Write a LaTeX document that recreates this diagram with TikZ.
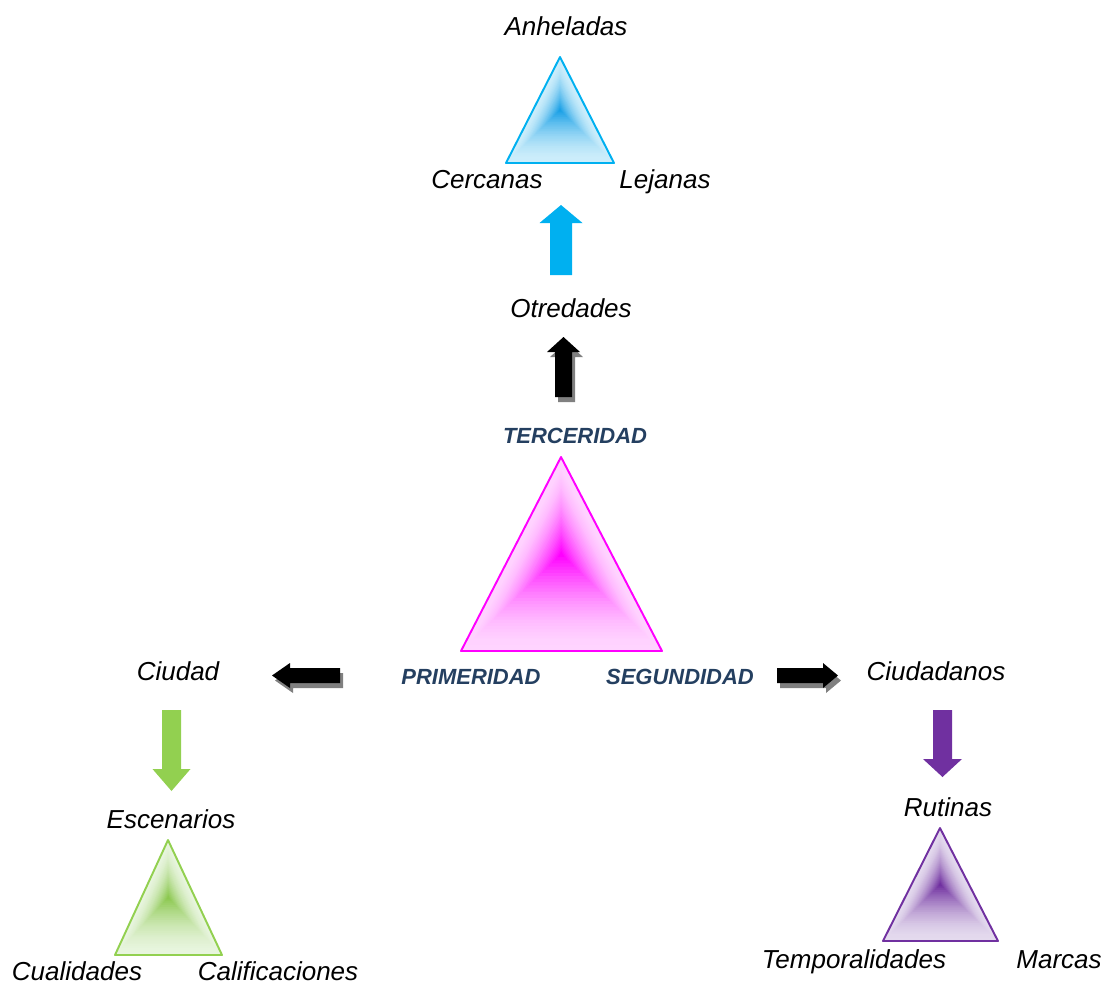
\documentclass[tikz,border=0pt]{standalone}
\usepackage{fontspec}
\setmainfont{Liberation Sans}
\usetikzlibrary{calc}
\definecolor{magline}{RGB}{255,0,255}
\definecolor{magdark}{RGB}{255,0,255}
\definecolor{maglight}{RGB}{255,212,255}
\definecolor{bluline}{RGB}{0,176,240}
\definecolor{bludark}{RGB}{25,160,230}
\definecolor{blulight}{RGB}{205,238,251}
\definecolor{grnline}{RGB}{146,208,80}
\definecolor{grndark}{RGB}{140,200,80}
\definecolor{grnlight}{RGB}{232,245,222}
\definecolor{purline}{RGB}{112,48,160}
\definecolor{purdark}{RGB}{112,48,160}
\definecolor{purlight}{RGB}{228,218,238}
\definecolor{catblue}{RGB}{36,63,96}
\tikzset{
  lbl/.style={anchor=base,inner sep=0pt,font=\fontsize{14.8}{17}\selectfont\itshape},
  cat/.style={anchor=base,inner sep=0pt,text=catblue,font=\fontsize{12.5}{14}\selectfont\bfseries\itshape}
}
% pyramid fill: apex, left, right, line, dark, light
\newcommand{\pyr}[6]{
  \coordinate (pm) at ($(#1)!0.5!($(#2)!0.5!(#3)$)$);
  \foreach \i in {0,...,30}{
    \pgfmathsetmacro{\s}{1-\i/31}
    \pgfmathtruncatemacro{\p}{100*(\i/30)^1.7}
    \fill[#5!\p!#6] ($(pm)!\s!(#1)$)--($(pm)!\s!(#2)$)--($(pm)!\s!(#3)$)--cycle;
  }
  \draw[#4,line width=1.1pt,line join=round] (#1)--(#2)--(#3)--cycle;
}
% block arrow: fill, tail, angle, length, head length, shaft half, head half
\newcommand{\barrow}[7]{
  \begin{scope}[shift={(#2)},rotate=#3]
    \fill[#1] (0,-#6)--(#4-#5,-#6)--(#4-#5,-#7)--(#4,0)--(#4-#5,#7)--(#4-#5,#6)--(0,#6)--cycle;
  \end{scope}
}
\begin{document}
\begin{tikzpicture}[x=0.02cm,y=-0.02cm]
\useasboundingbox (0,0) rectangle (1107,985);
% triangles
\coordinate (ma) at (561,457);
\coordinate (ml) at (461,651);
\coordinate (mr) at (662,651);
\coordinate (ba) at (560,57);
\coordinate (bl) at (506,163);
\coordinate (br) at (614,163);
\coordinate (ga) at (168,840);
\coordinate (gl) at (115,955);
\coordinate (gr) at (222,955);
\coordinate (pa) at (940,828);
\coordinate (pl) at (883,941);
\coordinate (pr) at (998,941);
\pyr{ma}{ml}{mr}{magline}{magdark}{maglight}
\pyr{ba}{bl}{br}{bluline}{bludark}{blulight}
\pyr{ga}{gl}{gr}{grnline}{grndark}{grnlight}
\pyr{pa}{pl}{pr}{purline}{purdark}{purlight}
% arrows
\coordinate (t1) at (561,275);
\coordinate (t2) at (563.5,397);
\coordinate (t3) at (340,675.5);
\coordinate (t4) at (777,675.5);
\coordinate (t5) at (171.5,710);
\coordinate (t6) at (942.5,710);
\barrow{bluline}{t1}{90}{70}{18}{11}{21.5}
\barrow{gray}{$(t2)+(3,5)$}{90}{60}{15}{8.5}{16.5}
\barrow{black}{t2}{90}{60}{15}{8.5}{16.5}
\barrow{gray}{$(t3)+(3,5)$}{180}{68}{18}{7.5}{12.5}
\barrow{black}{t3}{180}{68}{18}{7.5}{12.5}
\barrow{gray}{$(t4)+(3,5)$}{0}{61}{15}{7.5}{12.5}
\barrow{black}{t4}{0}{61}{15}{7.5}{12.5}
\barrow{grnline}{t5}{-90}{81}{22}{9.5}{19}
\barrow{purline}{t6}{-90}{67}{18}{9.5}{19.5}
% labels
\node[lbl] (anh) at (566,35) {Anheladas};
\node[lbl] (cer) at (487,188) {Cercanas};
\node[lbl] (lej) at (665,188) {Lejanas};
\node[lbl] (otr) at (571,317) {Otredades};
\node[cat] (ter) at (575,443) {TERCERIDAD};
\node[cat] (pri) at (471,684) {PRIMERIDAD};
\node[cat] (seg) at (680,684) {SEGUNDIDAD};
\node[lbl] (ciu) at (178,680) {Ciudad};
\node[lbl] (cdn) at (936,680) {Ciudadanos};
\node[lbl] (esc) at (171,828) {Escenarios};
\node[lbl] (cua) at (77,980) {Cualidades};
\node[lbl] (cal) at (278,980) {Calificaciones};
\node[lbl] (rut) at (948,816) {Rutinas};
\node[lbl] (tem) at (854,968) {Temporalidades};
\node[lbl] (mar) at (1059,968) {Marcas};
\end{tikzpicture}
\end{document}
